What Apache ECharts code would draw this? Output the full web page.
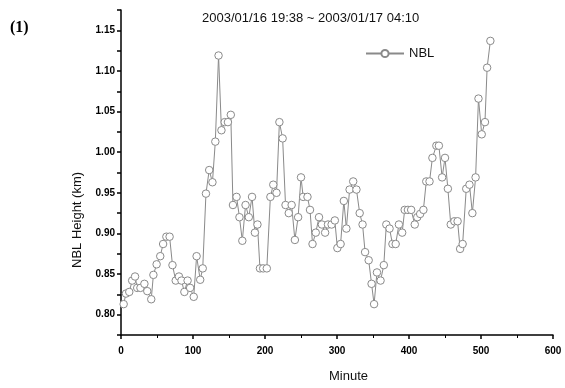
<!DOCTYPE html>
<html>
<head>
<meta charset="utf-8">
<script src="https://cdn.jsdelivr.net/npm/echarts@6/dist/echarts.min.js"></script>
<style>html,body{margin:0;padding:0;background:#fff}#c{width:565px;height:388px}</style>
</head>
<body>
<div id="c"></div>
<script>
var titleText = '2003/01/16 19:38 ~ 2003/01/17 04:10';
var seriesName = 'NBL';
var xTicks = [0, 100, 200, 300, 400, 500, 600];
var yTicks = [0.80, 0.85, 0.90, 0.95, 1.00, 1.05, 1.10, 1.15];
var minutes = [3.7,6.9,11.5,15.5,19.5,22.5,27,32.5,36.5,42,45,49.5,54.5,58.5,63,67.5,71.5,76,80.5,84,88,92.5,96,101,105,110,113.5,118,122.5,127,131,135.5,139.5,144,148.5,152.5,155.5,160.5,164.5,168.5,173,177.5,182,186,189.5,193,197.5,202.5,207.5,211.5,216,220,224.5,228.5,233,237,241.5,246,250,253,259,262.5,266,270.5,275,279,283.5,287.5,292.5,297,300.5,305,309.5,313,317.5,322.5,327,331.5,335.5,339,344,348,351.5,355.5,360.5,365,368.5,373,377,381.5,386,390.5,394,398.5,403,408,411.5,415.5,420,424,428.5,432.5,438,441.5,446,450,454,458,463,467.5,471,474.5,479.5,484,488,492.5,496.5,501,505.5,508.5,513];
var heights = [0.813,0.826,0.828,0.842,0.847,0.833,0.833,0.838,0.829,0.819,0.849,0.862,0.872,0.887,0.896,0.896,0.861,0.842,0.847,0.842,0.828,0.842,0.833,0.822,0.872,0.843,0.857,0.949,0.978,0.963,1.013,1.119,1.027,1.037,1.037,1.046,0.935,0.945,0.920,0.891,0.935,0.920,0.945,0.901,0.911,0.857,0.857,0.857,0.945,0.960,0.950,1.037,1.017,0.935,0.925,0.935,0.892,0.920,0.969,0.945,0.945,0.929,0.887,0.901,0.920,0.911,0.901,0.911,0.911,0.916,0.882,0.887,0.940,0.906,0.954,0.964,0.954,0.925,0.911,0.877,0.867,0.838,0.813,0.852,0.842,0.861,0.911,0.906,0.887,0.887,0.911,0.901,0.929,0.929,0.929,0.911,0.920,0.924,0.929,0.964,0.964,0.993,1.008,1.008,0.969,0.993,0.955,0.911,0.915,0.915,0.881,0.887,0.955,0.960,0.925,0.969,1.066,1.022,1.037,1.104,1.137];

var data = minutes.map(function(m, i){ return [m, heights[i]]; });
var chart = echarts.init(document.getElementById('c'));
var axisFont = {fontFamily: 'Liberation Sans, Arial', fontWeight: 'bold', fontSize: 10, color: '#000'};
chart.setOption({
  animation: false,
  backgroundColor: '#fff',
  title: {
    text: titleText, left: 197, top: 7,
    textStyle: {fontFamily: 'Liberation Sans, Arial', fontWeight: 'normal', fontSize: 13, color: '#111'}
  },
  legend: {
    data: [seriesName], left: 360, top: 42, itemWidth: 38, itemHeight: 9, itemGap: 4,
    textStyle: {fontFamily: 'Liberation Sans, Arial', fontSize: 13, color: '#111'}
  },
  graphic: [
    {type: 'text', left: 10, top: 20, style: {text: '(1)', font: 'bold 16px "Liberation Serif", "Times New Roman", serif', fill: '#000'}},
    {type: 'text', left: 329, top: 370, style: {text: 'Minute', font: '13px "Liberation Sans", Arial', fill: '#111'}},
    {type: 'text', x: 71, y: 268, rotation: Math.PI / 2, style: {text: 'NBL Height (km)', font: '13px "Liberation Sans", Arial', fill: '#111', textAlign: 'left', textVerticalAlign: 'top'}}
  ],
  grid: {left: 121, right: 12, top: 10, bottom: 53},
  xAxis: {
    type: 'value', min: xTicks[0], max: xTicks[xTicks.length - 1], interval: 100,
    axisLine: {show: true, lineStyle: {color: '#000', width: 1.5}},
    axisTick: {show: true, length: 4, lineStyle: {color: '#000', width: 1.5}},
    minorTick: {show: true, splitNumber: 2, length: 3, lineStyle: {color: '#000', width: 1}},
    splitLine: {show: false},
    axisLabel: Object.assign({margin: 11}, axisFont)
  },
  yAxis: {
    type: 'value', min: 0.775, max: 1.175, interval: 0.025,
    axisLine: {show: true, lineStyle: {color: '#000', width: 1.5}},
    axisTick: {show: true, length: 4, lineStyle: {color: '#000', width: 1.5}},
    splitLine: {show: false},
    axisLabel: Object.assign({margin: 6, formatter: function(v){
      var t = yTicks.find(function(k){ return Math.abs(k - v) < 1e-6; });
      return t === undefined ? '' : t.toFixed(2);
    }}, axisFont)
  },
  series: [{
    name: seriesName, type: 'line', data: data,
    symbol: 'circle', symbolSize: 7.5, showAllSymbol: true,
    lineStyle: {color: '#8a8a8a', width: 1},
    itemStyle: {color: '#fff', borderColor: '#8a8a8a', borderWidth: 1}
  }]
});
</script>
</body>
</html>
